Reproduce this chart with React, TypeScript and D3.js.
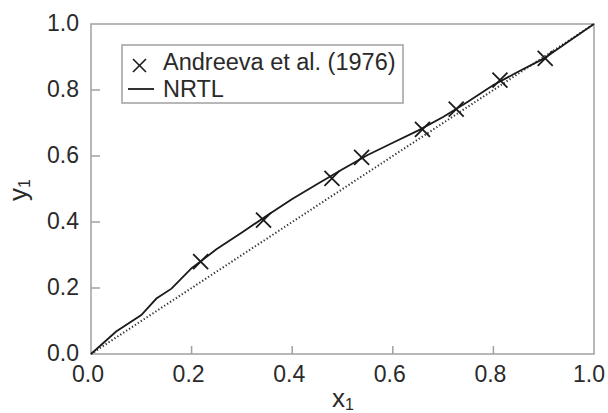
import React from "react";
import * as d3 from "d3";

const xTicks = [0, 0.2, 0.4, 0.6, 0.8, 1.0];
const yTicks = [0, 0.2, 0.4, 0.6, 0.8, 1.0];

const expX = [0.218, 0.343, 0.479, 0.538, 0.659, 0.726, 0.813, 0.903];
const expY = [0.28, 0.406, 0.532, 0.596, 0.681, 0.742, 0.83, 0.896];

const nrtlX = [0, 0.05, 0.1, 0.13, 0.16, 0.2, 0.25, 0.3, 0.35, 0.4, 0.45, 0.5, 0.55, 0.6, 0.65, 0.7, 0.75, 0.8, 0.85, 0.9, 0.95, 1.0];
const nrtlY = [0, 0.068, 0.118, 0.168, 0.198, 0.26, 0.318, 0.368, 0.42, 0.47, 0.515, 0.56, 0.603, 0.64, 0.677, 0.718, 0.765, 0.815, 0.856, 0.895, 0.948, 1.0];

const diagX = [0, 1];

const W = 608, H = 413;
const M = { left: 91, right: 594, top: 24, bottom: 354 };
const FONT = "'Liberation Sans', Arial, sans-serif";
const TXT = "#2a2a2a";
const AX = "#a0a0a0";

export default function App() {
  const x = d3.scaleLinear().domain([0, 1]).range([M.left, M.right]);
  const y = d3.scaleLinear().domain([0, 1]).range([M.bottom, M.top]);
  const line = d3.line<[number, number]>().x(d => x(d[0])).y(d => y(d[1]));
  const nrtl = line(nrtlX.map((v, i) => [v, nrtlY[i]] as [number, number])) || "";
  const diag = line(diagX.map(v => [v, v] as [number, number])) || "";
  const ms = 7.5;

  return (
    <svg width={W} height={H} style={{ position: "absolute", left: 0, top: 0, background: "#fff" }} fontFamily={FONT}>
      <rect x={0} y={0} width={W} height={H} fill="#fff" />
      <rect x={M.left} y={M.top} width={M.right - M.left} height={M.bottom - M.top} fill="none" stroke={AX} strokeWidth={1.5} />
      {xTicks.map((t, i) => (
        <g key={"xt" + i}>
          {i > 0 && i < xTicks.length - 1 && (
            <line x1={x(t)} x2={x(t)} y1={M.bottom} y2={M.bottom - 8} stroke={AX} strokeWidth={1.5} />
          )}
          <text x={x(t) - (i === xTicks.length - 1 ? 5 : 3)} y={382} textAnchor="middle" fontSize={23} fill={TXT}>{t.toFixed(1)}</text>
        </g>
      ))}
      {yTicks.map((t, i) => (
        <g key={"yt" + i}>
          {i > 0 && i < yTicks.length - 1 && (
            <line x1={M.left} x2={M.left + 9} y1={y(t)} y2={y(t)} stroke={AX} strokeWidth={1.5} />
          )}
          <text x={79} y={y(t) + 6.5} textAnchor="end" fontSize={23} fill={TXT}>{t.toFixed(1)}</text>
        </g>
      ))}
      <path d={diag} fill="none" stroke="#333" strokeWidth={2} strokeDasharray="1.3,2.2" />
      <path d={nrtl} fill="none" stroke="#1a1a1a" strokeWidth={1.8} />
      {expX.map((v, i) => (
        <g key={"m" + i} stroke="#1a1a1a" strokeWidth={1.8}>
          <line x1={x(v) - ms} x2={x(v) + ms} y1={y(expY[i]) - ms} y2={y(expY[i]) + ms} />
          <line x1={x(v) - ms} x2={x(v) + ms} y1={y(expY[i]) + ms} y2={y(expY[i]) - ms} />
        </g>
      ))}
      <rect x={122} y={45} width={281} height={58} fill="#fff" stroke={AX} strokeWidth={1.5} />
      <g stroke="#1a1a1a" strokeWidth={1.6}>
        <line x1={133} x2={146} y1={59} y2={72} />
        <line x1={133} x2={146} y1={72} y2={59} />
      </g>
      <text x={163} y={70} fontSize={23.5} fill={TXT}>Andreeva et al. (1976)</text>
      <line x1={128} x2={154} y1={89} y2={89} stroke="#1a1a1a" strokeWidth={1.8} />
      <text x={163} y={97} fontSize={23.5} fill={TXT}>NRTL</text>
      <text x={332} y={407} fontSize={26} fill={TXT}>x<tspan fontSize={16} dy={3}>1</tspan></text>
      <text transform={`translate(27,${(M.top + M.bottom) / 2 + 12}) rotate(-90)`} fontSize={26} fill={TXT}>y<tspan fontSize={16} dy={3}>1</tspan></text>
    </svg>
  );
}
